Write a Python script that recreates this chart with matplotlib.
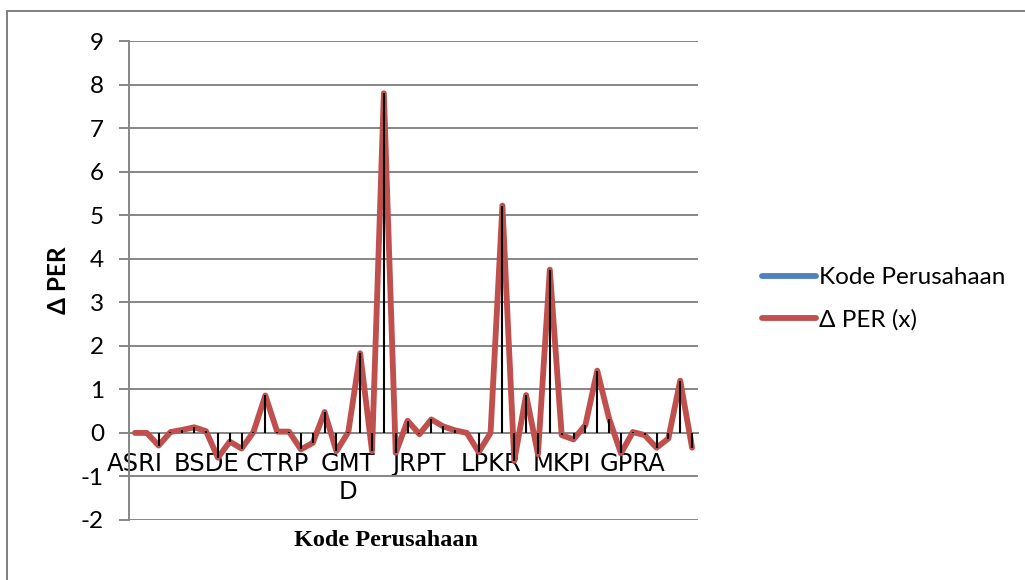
import numpy as np
import matplotlib.pyplot as plt
from matplotlib.patches import Rectangle

# Delta PER per company (48 companies)
delta_per = [
    0.00, 0.00, -0.29, 0.02, 0.07, 0.13, 0.04, -0.57, -0.20, -0.36,
    0.02, 0.86, 0.03, 0.03, -0.38, -0.23, 0.48, -0.42, 0.02, 1.83,
    -0.42, 7.80, -0.46, 0.28, -0.03, 0.31, 0.15, 0.06, 0.00, -0.44,
    0.00, 5.22, -0.64, 0.87, -0.49, 3.75, -0.05, -0.15, 0.18, 1.43,
    0.33, -0.47, 0.02, -0.05, -0.34, -0.13, 1.20, -0.34,
]
# only every 6th company code is printed on the axis
shown_codes = ["ASRI", "BSDE", "CTRP", "GMT\nD", "JRPT", "LPKR", "MKPI", "GPRA"]
label_step = 6
y_ticks = list(range(-2, 10))

RED = "#C0504D"
BLUE = "#4F81BD"
GRID = "#868686"
TICK_FONT = "Lato"
FS = 17.5

plt.rcParams["axes.unicode_minus"] = False

fig = plt.figure(figsize=(10.25, 5.8), dpi=100)
ax = fig.add_axes([129 / 1025, 1 - 520 / 580, 569 / 1025, 479 / 580])

x = np.arange(len(delta_per))
y = np.array(delta_per)

ax.plot(x, y, color=RED, lw=4.2, solid_joinstyle="round",
        solid_capstyle="round", zorder=4, label="\u0394 PER (x)")
# drop lines from each point to zero, drawn over the series line
ax.vlines(x, 0, y, color="black", lw=1.5, zorder=5)
# first series only appears in the legend
ax.plot([], [], color=BLUE, lw=4.2, solid_capstyle="round", label="Kode Perusahaan")

ax.set_xlim(-0.5, len(delta_per) - 0.5)
ax.set_ylim(-2, 9)
ax.set_yticks(y_ticks)
ax.yaxis.grid(True, color=GRID, lw=1.4)
ax.set_axisbelow(True)

ax.set_xticks(x[::label_step])
ax.set_xticklabels(shown_codes, linespacing=1.6)
ax.tick_params(axis="x", length=0, pad=14, labelsize=FS)
ax.tick_params(axis="y", length=7, width=1.4, color=GRID, pad=11, labelsize=FS)
for lab in ax.get_xticklabels() + ax.get_yticklabels():
    lab.set_fontfamily(TICK_FONT)

ax.spines["bottom"].set_position(("data", 0))
ax.spines["bottom"].set_color(GRID)
ax.spines["bottom"].set_linewidth(1.4)
ax.spines["left"].set_color(GRID)
ax.spines["left"].set_linewidth(1.4)
ax.spines["top"].set_visible(False)
ax.spines["right"].set_visible(False)

fig.text(59 / 1025, 1 - 280 / 580, "\u0394 PER", rotation=90, ha="center", va="center",
         fontsize=FS, fontweight="bold", fontfamily=TICK_FONT)
fig.text(386 / 1025, 1 - 541 / 580, "Kode Perusahaan", ha="center", va="center",
         fontsize=17.5, fontweight="bold", fontfamily="Liberation Serif")

handles, labels = ax.get_legend_handles_labels()
fig.legend(handles[::-1], labels[::-1], loc="center left",
           bbox_to_anchor=(750 / 1025, 1 - 299 / 580), frameon=False,
           prop={"family": TICK_FONT, "size": FS}, handlelength=2.2,
           handletextpad=0.15, labelspacing=0.85, borderpad=0)

# chart area border (only top and left fall inside the crop)
fig.patches.append(Rectangle((7 / 1025, -0.1), 1.2, 1 - 11 / 580 + 0.1,
                             transform=fig.transFigure, fill=False,
                             edgecolor="#7f7f7f", lw=1.4))

fig.savefig("out.png", dpi=100)
